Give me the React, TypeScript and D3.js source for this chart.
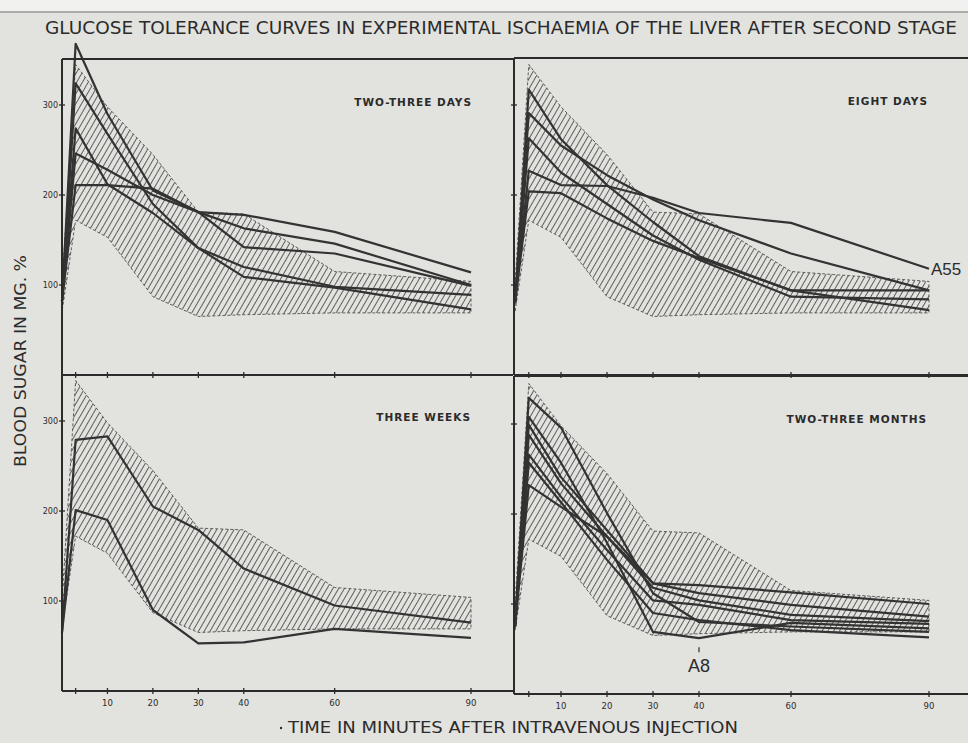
import React, { useEffect, useRef } from "react";
import * as d3 from "d3";

// sample times (minutes after injection)
const times = [0, 3, 10, 20, 30, 40, 60, 90];
const tickTimes = [3, 10, 20, 30, 40, 60, 90];
const tickLabels = ["", "10", "20", "30", "40", "60", "90"];
const sugarTicks = [100, 200, 300];
const sugarLabels = ["100", "200", "300"];

// normal range (hatched band), same in every panel
const normalUpper = [100, 345, 298, 245, 181, 179, 115, 104];
const normalLower = [70, 172, 153, 87, 65, 67, 69, 69];

const twoThreeDays = [
  [82, 368, 290, 205, 181, 163, 146, 100],
  [82, 324, 268, 190, 141, 109, 97, 73],
  [82, 274, 212, 180, 141, 120, 98, 89],
  [82, 246, 228, 200, 181, 142, 135, 99],
  [82, 211, 211, 207, 181, 178, 159, 114],
];

const eightDays = [
  [80, 317, 262, 211, 170, 132, 94, 94],
  [80, 291, 255, 222, 195, 172, 135, 94],
  [80, 263, 225, 190, 155, 128, 87, 84],
  [80, 227, 211, 210, 197, 180, 169, 118],
  [80, 204, 202, 174, 149, 130, 94, 72],
];

const threeWeeks = [
  [65, 279, 283, 205, 179, 136, 95, 76],
  [65, 201, 190, 90, 53, 54, 69, 59],
];

const twoThreeMonths = [
  [75, 329, 296, 201, 112, 80, 75, 69],
  [75, 308, 257, 168, 69, 62, 79, 73],
  [75, 299, 241, 182, 123, 112, 99, 86],
  [75, 288, 234, 175, 118, 104, 88, 81],
  [75, 266, 219, 160, 104, 99, 82, 78],
  [75, 257, 213, 149, 90, 82, 71, 63],
  [75, 232, 208, 175, 123, 121, 113, 100],
];

const panelNames = ["TWO-THREE DAYS", "EIGHT DAYS", "THREE WEEKS", "TWO-THREE MONTHS"];
const panelCurves = [twoThreeDays, eightDays, threeWeeks, twoThreeMonths];

const title =
  "GLUCOSE TOLERANCE CURVES IN EXPERIMENTAL ISCHAEMIA OF THE LIVER AFTER SECOND STAGE";
const yTitle = "BLOOD SUGAR IN MG. %";
const xTitle = "TIME IN MINUTES AFTER INTRAVENOUS INJECTION";

const ink = "#2b2b2b";
const paper = "#e2e2df";
const font = "'DejaVu Sans', sans-serif";

function draw(el: SVGSVGElement) {
  const svg = d3.select(el);
  svg.selectAll("*").remove();

  svg.append("rect").attr("width", 968).attr("height", 743).attr("fill", paper);
  svg.append("rect").attr("width", 968).attr("height", 11).attr("fill", "#f1f1ef");
  svg.append("line").attr("x1", 0).attr("x2", 968).attr("y1", 12).attr("y2", 12)
    .attr("stroke", "#9a9a98").attr("stroke-width", 1.5);

  const defs = svg.append("defs");
  const pat = defs.append("pattern")
    .attr("id", "hatch")
    .attr("patternUnits", "userSpaceOnUse")
    .attr("width", 5)
    .attr("height", 5)
    .attr("patternTransform", "rotate(30)");
  pat.append("line")
    .attr("x1", 2.5).attr("x2", 2.5).attr("y1", 0).attr("y2", 5)
    .attr("stroke", "#5e5e5c").attr("stroke-width", 1);

  // layout of the four panels
  const layout = [
    { xr: [62, 471], yr: [375, 60], left: 62, right: 513, top: 59, bottom: 375, labelX: 472, labelY: 106, yLabels: true },
    { xr: [515, 929], yr: [375, 60], left: 514, right: 968, top: 58, bottom: 375, labelX: 928, labelY: 105, yLabels: false },
    { xr: [62, 471], yr: [691, 376], left: 62, right: 513, top: 375, bottom: 691, labelX: 471, labelY: 421, yLabels: true },
    { xr: [515, 929], yr: [694, 379], left: 514, right: 968, top: 376, bottom: 694, labelX: 927, labelY: 423, yLabels: false },
  ];

  layout.forEach((p, i) => {
    const x = d3.scaleLinear().domain([0, 90]).range(p.xr);
    const y = d3.scaleLinear().domain([0, 350]).range(p.yr);
    const g = svg.append("g");

    const band = times.map((t, k) => ({ t, lo: normalLower[k], hi: normalUpper[k] }));
    const area = d3.area<any>().x((d) => x(d.t)).y0((d) => y(d.lo)).y1((d) => y(d.hi));
    g.append("path").attr("d", area(band)).attr("fill", "url(#hatch)")
      .attr("stroke", "#5e5e5c").attr("stroke-width", 1)
      .attr("stroke-dasharray", "3,2");

    const line = d3.line<number>().x((d, k) => x(times[k])).y((d) => y(d));
    g.selectAll("path.curve")
      .data(panelCurves[i])
      .enter()
      .append("path")
      .attr("class", "curve")
      .attr("d", (d) => line(d))
      .attr("fill", "none")
      .attr("stroke", "#333")
      .attr("stroke-width", 2.2)
      .attr("stroke-linejoin", "round");

    // frame
    g.append("line").attr("x1", p.left).attr("x2", p.right).attr("y1", p.top).attr("y2", p.top)
      .attr("stroke", ink).attr("stroke-width", 2);
    g.append("line").attr("x1", p.left).attr("x2", p.right).attr("y1", p.bottom).attr("y2", p.bottom)
      .attr("stroke", ink).attr("stroke-width", 2);
    g.append("line").attr("x1", p.left).attr("x2", p.left).attr("y1", p.top).attr("y2", p.bottom)
      .attr("stroke", ink).attr("stroke-width", 2);

    // time ticks on the bottom edge
    g.selectAll("line.xt")
      .data(tickTimes)
      .enter()
      .append("line")
      .attr("x1", (d) => x(d)).attr("x2", (d) => x(d))
      .attr("y1", p.bottom - 3).attr("y2", p.bottom + 3)
      .attr("stroke", ink).attr("stroke-width", 1.3);

    if (i >= 2) {
      g.selectAll("text.xl")
        .data(tickTimes)
        .enter()
        .append("text")
        .attr("x", (d) => x(d))
        .attr("y", p.bottom + 15)
        .attr("text-anchor", "middle")
        .attr("font-family", font)
        .attr("font-size", 8.5)
        .attr("fill", ink)
        .text((d, k) => tickLabels[k]);
    }

    // sugar ticks
    g.selectAll("line.yt")
      .data(sugarTicks)
      .enter()
      .append("line")
      .attr("x1", p.left - 3).attr("x2", p.left + 3)
      .attr("y1", (d) => y(d)).attr("y2", (d) => y(d))
      .attr("stroke", ink).attr("stroke-width", 1.3);

    if (p.yLabels) {
      g.selectAll("text.yl")
        .data(sugarTicks)
        .enter()
        .append("text")
        .attr("x", p.left - 4)
        .attr("y", (d) => y(d) + 3)
        .attr("text-anchor", "end")
        .attr("font-family", font)
        .attr("font-size", 8)
        .attr("fill", ink)
        .text((d, k) => sugarLabels[k]);
    }

    g.append("text")
      .attr("x", p.labelX)
      .attr("y", p.labelY)
      .attr("text-anchor", "end")
      .attr("font-family", font)
      .attr("font-weight", "bold")
      .attr("font-size", 10.5)
      .attr("letter-spacing", 1)
      .attr("fill", ink)
      .text(panelNames[i]);

    if (i === 1) {
      const last = eightDays[3][eightDays[3].length - 1];
      g.append("text")
        .attr("x", x(90) + 2)
        .attr("y", y(last) + 6)
        .attr("font-family", "'Liberation Sans', sans-serif")
        .attr("font-size", 17)
        .attr("fill", ink)
        .text("A55");
    }
    if (i === 3) {
      const low = twoThreeMonths[1][5];
      g.append("line")
        .attr("x1", x(40)).attr("x2", x(40))
        .attr("y1", y(low) + 9).attr("y2", y(low) + 14)
        .attr("stroke", ink).attr("stroke-width", 1.2);
      g.append("text")
        .attr("x", x(40))
        .attr("y", y(low) + 34)
        .attr("text-anchor", "middle")
        .attr("font-family", "'Liberation Sans Narrow', 'Liberation Sans', sans-serif")
        .attr("font-size", 18)
        .attr("fill", ink)
        .text("A8");
    }
  });

  svg.append("text")
    .attr("x", 45)
    .attr("y", 34)
    .attr("textLength", 912)
    .attr("lengthAdjust", "spacingAndGlyphs")
    .attr("font-family", font)
    .attr("font-size", 17)
    .attr("font-weight", 500)
    .attr("fill", ink)
    .text(title);

  svg.append("text")
    .attr("transform", "translate(26,361) rotate(-90)")
    .attr("text-anchor", "middle")
    .attr("textLength", 212)
    .attr("lengthAdjust", "spacingAndGlyphs")
    .attr("font-family", font)
    .attr("font-size", 15)
    .attr("font-weight", 500)
    .attr("fill", ink)
    .text(yTitle);

  svg.append("text")
    .attr("x", 288)
    .attr("y", 733)
    .attr("textLength", 450)
    .attr("lengthAdjust", "spacingAndGlyphs")
    .attr("font-family", font)
    .attr("font-size", 15)
    .attr("fill", ink)
    .text(xTitle);
  svg.append("circle").attr("cx", 281).attr("cy", 728).attr("r", 1.2).attr("fill", ink);
}

export default function App() {
  const ref = useRef<SVGSVGElement>(null);
  useEffect(() => {
    if (ref.current) draw(ref.current);
  }, []);
  return (
    <svg
      ref={ref}
      width={968}
      height={743}
      style={{ position: "absolute", left: 0, top: 0, display: "block" }}
    />
  );
}
